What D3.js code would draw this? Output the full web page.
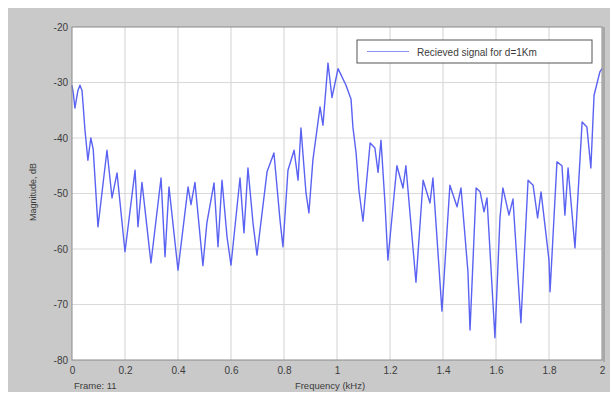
<!DOCTYPE html>
<html>
<head>
<meta charset="utf-8">
<script src="https://cdn.jsdelivr.net/npm/d3@7"></script>
<style>
  html, body { margin: 0; padding: 0; background: #ffffff; }
  svg { display: block; }
  text { font-family: "Liberation Sans", Arial, sans-serif; }
</style>
</head>
<body>
<svg id="chart" width="612" height="396"></svg>
<script>
// ---- data ----
const freqs = [0.000,0.005,0.011,0.022,0.030,0.038,0.049,0.060,0.071,0.080,0.098,0.132,0.151,0.170,0.200,0.238,0.249,0.264,0.298,0.336,0.351,0.366,0.400,0.438,0.449,0.464,0.494,0.509,0.536,0.551,0.566,0.585,0.600,0.634,0.649,0.664,0.683,0.698,0.736,0.762,0.785,0.796,0.815,0.838,0.853,0.864,0.883,0.894,0.909,0.936,0.947,0.966,0.981,1.004,1.034,1.053,1.060,1.072,1.083,1.098,1.125,1.143,1.155,1.166,1.181,1.192,1.226,1.249,1.260,1.298,1.325,1.351,1.362,1.396,1.426,1.453,1.468,1.494,1.502,1.525,1.540,1.555,1.566,1.596,1.615,1.626,1.649,1.664,1.694,1.721,1.740,1.757,1.770,1.800,1.804,1.830,1.849,1.860,1.872,1.898,1.925,1.943,1.958,1.970,1.992,2.000];
const magnitudes = [-30.5,-32,-34.6,-31.5,-30.5,-31.5,-38.6,-44,-40,-42,-56,-42.2,-50.8,-46.3,-60.5,-45.8,-56,-48,-62.5,-47.2,-61.4,-48.8,-63.8,-48.8,-52,-48,-63,-55.3,-48.1,-59.6,-47.6,-57.8,-62.9,-47.2,-57.1,-45.4,-55.3,-61.1,-46.1,-42.7,-54.8,-59.6,-45.8,-42.2,-47.6,-38.2,-49.9,-53.5,-44,-34.4,-37.7,-26.5,-32.7,-27.5,-30.5,-33,-38,-42.7,-49.5,-55,-40.9,-41.8,-46.2,-40.4,-51.7,-62,-45,-49,-45,-66,-47.6,-51.7,-47.2,-71.2,-48.5,-52.4,-49,-64,-74.6,-49,-49.7,-53.3,-50.8,-76,-54.4,-49,-53.9,-51,-73.3,-47.6,-48.5,-54.4,-49.7,-62,-67.7,-44.3,-45,-53.9,-45.4,-59.8,-37.1,-38,-45.4,-32.3,-28.1,-27.5];
const xTicks = [0,0.2,0.4,0.6,0.8,1,1.2,1.4,1.6,1.8,2];
const xTickLabels = ["0","0.2","0.4","0.6","0.8","1","1.2","1.4","1.6","1.8","2"];
const yTicks = [-80,-70,-60,-50,-40,-30,-20];
const yTickLabels = ["-80","-70","-60","-50","-40","-30","-20"];
const legendLabel = "Recieved signal for d=1Km";
const xTitle = "Frequency (kHz)";
const yTitle = "Magnitude, dB";
const frameLabel = "Frame: 11";

// ---- layout ----
const svg = d3.select("#chart");
const plot = {left: 72, top: 27, right: 602, bottom: 360};

svg.append("rect").attr("x", 8).attr("y", 8).attr("width", 602).attr("height", 384)
  .attr("fill", "#c9c9c9");

const x = d3.scaleLinear().domain([0, 2]).range([plot.left, plot.right]);
const y = d3.scaleLinear().domain([-80, -20]).range([plot.bottom, plot.top]);

svg.append("rect").attr("x", plot.left).attr("y", plot.top)
  .attr("width", plot.right - plot.left).attr("height", plot.bottom - plot.top)
  .attr("fill", "#ffffff");

// grid
const grid = svg.append("g");
grid.selectAll("line.gx").data(xTicks.slice(1, -1)).join("line")
  .attr("x1", d => x(d)).attr("x2", d => x(d))
  .attr("y1", plot.top).attr("y2", plot.bottom)
  .attr("stroke", "#d9d9d9").attr("stroke-width", 1.2);
grid.selectAll("line.gy").data(yTicks.slice(1, -1)).join("line")
  .attr("x1", plot.left).attr("x2", plot.right)
  .attr("y1", d => y(d)).attr("y2", d => y(d))
  .attr("stroke", "#d9d9d9").attr("stroke-width", 1.2);

// data line
const data = freqs.map((f, i) => [f, magnitudes[i]]);
const line = d3.line().x(d => x(d[0])).y(d => y(d[1]));
svg.append("path").datum(data)
  .attr("d", line)
  .attr("fill", "none")
  .attr("stroke", "#5a62f2")
  .attr("stroke-width", 1.4)
  .attr("stroke-linejoin", "round");

// plot frame
svg.append("rect").attr("x", plot.left).attr("y", plot.top)
  .attr("width", plot.right - plot.left).attr("height", plot.bottom - plot.top)
  .attr("fill", "none").attr("stroke", "#8a8a8a").attr("stroke-width", 1);
svg.append("line").attr("x1", plot.right + 2).attr("x2", plot.right + 2)
  .attr("y1", plot.top).attr("y2", plot.bottom + 2)
  .attr("stroke", "#a8a8a8").attr("stroke-width", 2);

// axes
const xAxis = d3.axisBottom(x).tickValues(xTicks)
  .tickFormat((d, i) => xTickLabels[i]).tickSize(0).tickPadding(7);
const gx = svg.append("g").attr("transform", `translate(0,${plot.bottom})`).call(xAxis);
gx.select(".domain").remove();
gx.selectAll("text").attr("fill", "#3c3c3c").style("font-size", "10px");

const yAxis = d3.axisLeft(y).tickValues(yTicks).tickSize(0).tickPadding(4)
  .tickFormat((d, i) => yTickLabels[i]);
const gy = svg.append("g").attr("transform", `translate(${plot.left},0)`).call(yAxis);
gy.select(".domain").remove();
gy.selectAll("text").attr("fill", "#3c3c3c").style("font-size", "10px");

// titles
svg.append("text").attr("x", 330).attr("y", 389).attr("text-anchor", "middle")
  .attr("fill", "#3c3c3c").style("font-size", "9.5px").text(xTitle);
svg.append("text").attr("x", 74).attr("y", 389)
  .attr("fill", "#3c3c3c").style("font-size", "9.5px").text(frameLabel);
svg.append("text").attr("transform", "translate(36,192) rotate(-90)")
  .attr("text-anchor", "middle")
  .attr("fill", "#3c3c3c").style("font-size", "9px").text(yTitle);

// legend
const lg = svg.append("g");
lg.append("rect").attr("x", 357).attr("y", 40).attr("width", 235).attr("height", 23)
  .attr("fill", "#ffffff").attr("stroke", "#555555").attr("stroke-width", 1);
lg.append("line").attr("x1", 367).attr("x2", 409).attr("y1", 51.5).attr("y2", 51.5)
  .attr("stroke", "#8a90f4").attr("stroke-width", 1.2);
lg.append("text").attr("x", 417).attr("y", 55.5)
  .attr("fill", "#3c3c3c").style("font-size", "10px").text(legendLabel);
</script>
</body>
</html>
